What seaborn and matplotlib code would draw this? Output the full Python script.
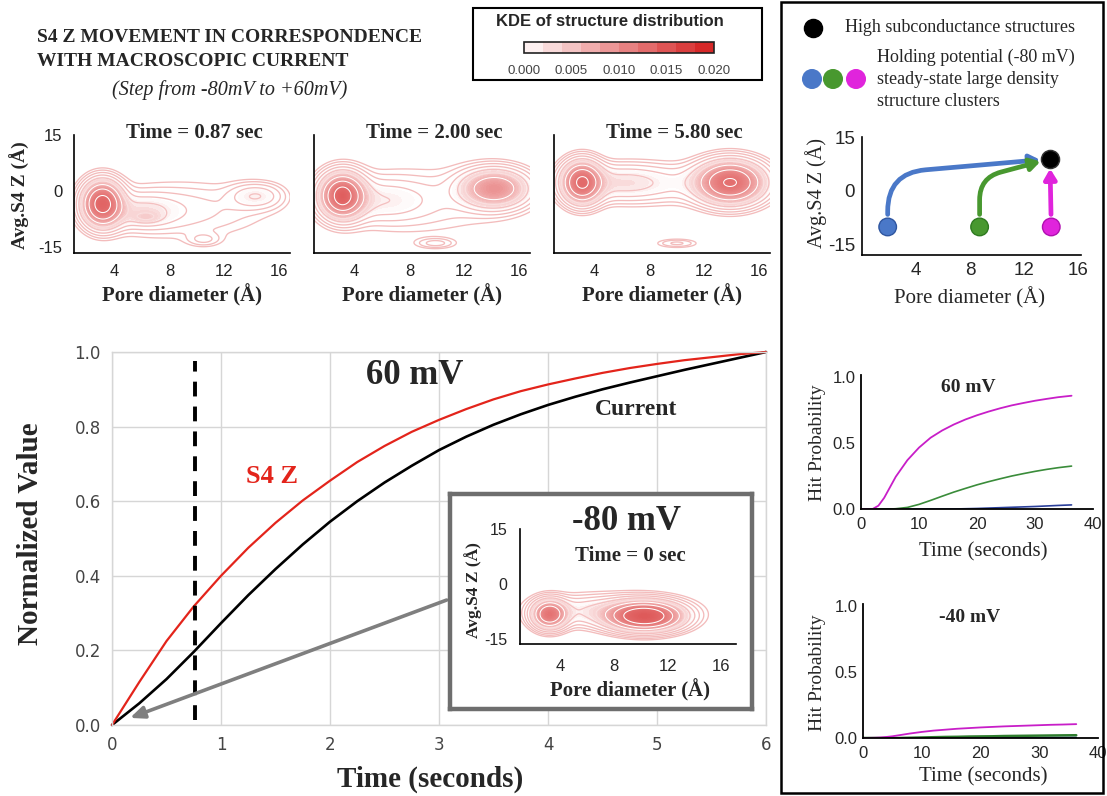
import numpy as np
import matplotlib
matplotlib.use("Agg")
import matplotlib.pyplot as plt
import seaborn as sns
from matplotlib.colors import LinearSegmentedColormap, ListedColormap, BoundaryNorm, Normalize, to_rgb
from matplotlib.patches import Rectangle
import matplotlib.colorbar as mcolorbar

# ------------------------------------------------------------------ data
time_s = [0, 0.25, 0.5, 0.75, 1.0, 1.25, 1.5, 1.75, 2.0, 2.25, 2.5, 2.75, 3.0,
          3.25, 3.5, 3.75, 4.0, 4.25, 4.5, 4.75, 5.0, 5.25, 5.5, 5.75, 6.0]
s4z_norm = [0, 0.115, 0.225, 0.318, 0.400, 0.475, 0.542, 0.602, 0.655, 0.705, 0.748,
            0.786, 0.818, 0.847, 0.873, 0.895, 0.913, 0.929, 0.944, 0.957, 0.968,
            0.978, 0.986, 0.994, 1.0]
current_norm = [0, 0.058, 0.123, 0.196, 0.273, 0.348, 0.418, 0.484, 0.545, 0.60, 0.65,
                0.695, 0.737, 0.773, 0.805, 0.833, 0.858, 0.880, 0.900, 0.918, 0.935,
                0.952, 0.968, 0.984, 1.0]
snapshot_time = 0.76

hit_time = [0, 2, 3, 4, 5, 6, 8, 10, 12, 14, 16, 18, 20, 22, 24, 26, 28, 30, 32, 34, 36.3]
hit60_magenta = [0, 0.0, 0.025, 0.085, 0.165, 0.245, 0.37, 0.465, 0.54, 0.595, 0.64, 0.678,
                 0.71, 0.738, 0.763, 0.785, 0.803, 0.82, 0.834, 0.847, 0.858]
hit60_green = [0, 0, 0, 0, 0, 0.002, 0.012, 0.035, 0.065, 0.097, 0.128, 0.156, 0.183,
               0.207, 0.229, 0.25, 0.268, 0.285, 0.30, 0.313, 0.325]
hit60_blue = [0, 0, 0, 0, 0, 0, 0, 0, 0, 0, 0, 0.002, 0.004, 0.007, 0.010, 0.013, 0.016,
              0.019, 0.023, 0.027, 0.031]
hitm40_magenta = [0, 0.002, 0.004, 0.008, 0.013, 0.02, 0.034, 0.046, 0.056, 0.063, 0.07,
                  0.075, 0.08, 0.084, 0.088, 0.091, 0.094, 0.097, 0.10, 0.102, 0.105]
hitm40_green = [0, 0, 0, 0, 0, 0, 0.002, 0.004, 0.006, 0.008, 0.009, 0.011, 0.012, 0.013,
                0.015, 0.016, 0.017, 0.018, 0.019, 0.020, 0.021]
hitm40_blue = [0, 0, 0, 0, 0, 0, 0, 0, 0.001, 0.001, 0.001, 0.002, 0.002, 0.002, 0.003,
               0.003, 0.003, 0.003, 0.004, 0.004, 0.004]

# cluster summary (pore diameter, S4 Z) for the schematic
cluster_pore = [1.9, 8.7, 14.0]
cluster_s4z = [-10, -10, -10]
cluster_colors = ["#4a78c8", "#48982f", "#e024dc"]
cluster_edges = ["#2f56a0", "#2f7a20", "#b010b0"]
high_pore = [13.9]
high_s4z = [8.9]

# KDE components: centre x, centre y, sd x, sd y, weight
kde087_cx = [3.1, 6.0, 6.3, 9.0, 13.7, 15.0, 10.5]
kde087_cy = [-3.4, -5.5, -7.1, -5.0, -1.3, -1.3, -13.0]
kde087_sx = [0.85, 1.7, 0.7, 4.0, 1.0, 1.0, 0.8]
kde087_sy = [3.5, 2.8, 1.0, 5.0, 2.2, 2.2, 1.2]
kde087_w = [0.22, 0.045, 0.005, 0.11, 0.013, 0.013, 0.004]

kde200_cx = [3.1, 3.1, 6.0, 9.0, 14.2, 9.9]
kde200_cy = [-1.2, -1.4, -2.5, -2.5, 0.7, -14.0]
kde200_sx = [0.95, 0.3, 2.2, 4.5, 1.5, 0.9]
kde200_sy = [3.5, 1.5, 3.5, 6.5, 3.1, 0.9]
kde200_w = [0.23, 0.006, 0.06, 0.11, 0.18, 0.004]

kde580_cx = [3.07, 6.0, 13.9, 9.0, 10.0]
kde580_cy = [2.3, 2.3, 2.3, 2.0, -14.0]
kde580_sx = [0.85, 2.2, 1.45, 4.5, 1.0]
kde580_sy = [3.3, 3.0, 3.4, 3.6, 0.8]
kde580_w = [0.18, 0.06, 0.31, 0.09, 0.004]

kde0_cx = [3.2, 10.3, 6.5, 8.0]
kde0_cy = [-8.3, -8.8, -7.5, -7.0]
kde0_sx = [0.75, 1.6, 2.5, 4.5]
kde0_sy = [2.3, 2.3, 2.5, 3.5]
kde0_w = [0.10, 0.33, 0.05, 0.045]

cbar_ticks = [0.000, 0.005, 0.010, 0.015, 0.020]

# ------------------------------------------------------------------ style
sns.set_theme(style="white")
SERIF = "Liberation Serif"
SANS = "Liberation Sans"
plt.rcParams["font.family"] = ["DejaVu Sans"]
plt.rcParams["axes.unicode_minus"] = False

W, H = 1107, 796
fig = plt.figure(figsize=(W / 100, H / 100), dpi=100, facecolor="white")


def add_ax(l, t, r, b):
    return fig.add_axes([l / W, 1 - b / H, (r - l) / W, (b - t) / H])


# ------------------------------------------------------------------ main chart
ax = add_ax(112, 352, 766, 725)
sns.lineplot(x=time_s, y=current_norm, color="black", lw=1.9, ax=ax, clip_on=False)
sns.lineplot(x=time_s, y=s4z_norm, color="#e3241b", lw=1.6, ax=ax, clip_on=False)
ax.set_xlim(0, 6)
ax.set_ylim(0, 1)
ax.set_xticks(range(7))
ax.set_yticks([0, 0.2, 0.4, 0.6, 0.8, 1.0])
ax.set_yticklabels([f"{v:.1f}" for v in [0, 0.2, 0.4, 0.6, 0.8, 1.0]])
ax.grid(True, color="#d6d6d6", lw=1.0)
for sp in ax.spines.values():
    sp.set_color("#d6d6d6")
    sp.set_linewidth(1.0)
ax.tick_params(length=0, labelsize=12, labelcolor="#444444", pad=8)
ax.set_xlabel("")
ax.set_ylabel("")
ax.axvline(snapshot_time, ymin=0.013, ymax=0.975, color="black", lw=2.8, dashes=(3.8, 2.6))
ax.text(2.78, 0.938, "60 mV", fontsize=25, fontweight="bold", family=SERIF, ha="center", va="center")
ax.text(4.81, 0.845, "Current", fontsize=17, fontweight="bold", family=SERIF, ha="center", va="center")
ax.text(1.47, 0.665, "S4 Z", fontsize=19, fontweight="bold", family=SERIF, color="#e3241b",
        ha="center", va="center")
ax.annotate("", xy=(0.165, 0.019), xytext=(3.07, 0.335),
            arrowprops=dict(arrowstyle="-|>,head_length=0.7,head_width=0.3", color="#7f7f7f",
                            lw=2.6, shrinkA=0, shrinkB=0))

# ------------------------------------------------------------------ KDE helpers
GX = np.linspace(0.3, 17.8, 280)
GY = np.linspace(-18.5, 16.5, 280)
XX, YY = np.meshgrid(GX, GY)

d_nodes = [0.0013, 0.0022, 0.0040, 0.0068, 0.011, 0.019, 0.032]
c_nodes = ["#ffffff", "#f9dcdc", "#f2b4b4", "#ea8e8e", "#e26a6a", "#da4a4a", "#d02a2a"]
fill_norm = Normalize(d_nodes[0], d_nodes[-1])
fill_cmap = LinearSegmentedColormap.from_list(
    "kdefill", [((d - d_nodes[0]) / (d_nodes[-1] - d_nodes[0]), c) for d, c in zip(d_nodes, c_nodes)])
FILL_LEVELS = np.linspace(0.0013, 0.034, 120)
LINE_LEVELS = 0.0003 * 1.55 ** np.arange(11)
pink = np.array(to_rgb("#f3bcbc"))
white = np.array([1.0, 1.0, 1.0])
line_colors = []
line_widths = []
for lev in LINE_LEVELS:
    t = np.clip((lev - 0.0016) / 0.002, 0, 1)
    line_colors.append(tuple(pink * (1 - t) + white * t))
    line_widths.append(0.95 - 0.2 * t)


def density(cx, cy, sx, sy, w):
    Z = np.zeros_like(XX)
    for a, b, s1, s2, ww in zip(cx, cy, sx, sy, w):
        Z += ww / (2 * np.pi * s1 * s2) * np.exp(-0.5 * (((XX - a) / s1) ** 2 + ((YY - b) / s2) ** 2))
    return Z


def draw_kde(axk, cx, cy, sx, sy, w, xlim, ylim):
    Z = density(cx, cy, sx, sy, w)
    axk.contourf(XX, YY, Z, levels=FILL_LEVELS, cmap=fill_cmap, norm=fill_norm, extend="max",
                 antialiased=False)
    axk.contour(XX, YY, Z, levels=LINE_LEVELS, colors=line_colors, linewidths=line_widths)
    axk.set_xlim(*xlim)
    axk.set_ylim(*ylim)
    axk.set_facecolor("white")
    for s in ["top", "right"]:
        axk.spines[s].set_visible(False)
    for s in ["left", "bottom"]:
        axk.spines[s].set_color("black")
        axk.spines[s].set_linewidth(1.2)


panels = [
    (kde087_cx, kde087_cy, kde087_sx, kde087_sy, kde087_w, "Time = 0.87 sec"),
    (kde200_cx, kde200_cy, kde200_sx, kde200_sy, kde200_w, "Time = 2.00 sec"),
    (kde580_cx, kde580_cy, kde580_sx, kde580_sy, kde580_w, "Time = 5.80 sec"),
]

ov = fig.add_axes([0, 0, 1, 1])
ov.set_xlim(0, W)
ov.set_ylim(H, 0)
ov.axis("off")
ov.patch.set_alpha(0)
ov.set_zorder(5)

for i, (cx, cy, sx, sy, w, title) in enumerate(panels):
    left = 73.5 + 240 * i
    axk = add_ax(left, 135, left + 216, 253)
    draw_kde(axk, cx, cy, sx, sy, w, (1, 16.75), (-16.6, 15))
    axk.set_xticks([4, 8, 12, 16])
    if i == 0:
        axk.set_yticks([-15, 0, 15])
    else:
        axk.set_yticks([])
    axk.tick_params(length=0, labelsize=12, pad=8, labelcolor="#222222")
    for lab in axk.get_xticklabels() + axk.get_yticklabels():
        lab.set_family(SANS)
    ov.text(left + 121, 133, title, fontsize=15, fontweight="bold", family=SERIF, ha="center", va="center")
    ov.text(left + 108, 295, "Pore diameter (Å)", fontsize=15, fontweight="bold", family=SERIF,
            ha="center", va="center")
ov.text(20, 195, "Avg.S4 Z (Å)", fontsize=14, fontweight="bold", family=SERIF, rotation=90,
        ha="center", va="center")

# ------------------------------------------------------------------ inset (-80 mV)
box = add_ax(450, 494, 752, 709)
box.set_xticks([])
box.set_yticks([])
box.set_facecolor("white")
for sp in box.spines.values():
    sp.set_color("#6e6e6e")
    sp.set_linewidth(3.2)

axi = add_ax(520, 529, 736, 644)
draw_kde(axi, kde0_cx, kde0_cy, kde0_sx, kde0_sy, kde0_w, (1, 17.1), (-16.4, 15))
axi.set_xticks([4, 8, 12, 16])
axi.set_yticks([-15, 0, 15])
axi.tick_params(axis="y", length=0, labelsize=11.5, pad=9)
axi.tick_params(axis="x", length=0, labelsize=12, pad=11)
for lab in axi.get_xticklabels() + axi.get_yticklabels():
    lab.set_family(SANS)
ov.text(627, 522, "-80 mV", fontsize=25, fontweight="bold", family=SERIF, ha="center", va="center")
ov.text(630, 556, "Time = 0 sec", fontsize=15, fontweight="bold", family=SERIF, ha="center", va="center")
ov.text(630, 690, "Pore diameter (Å)", fontsize=15, fontweight="bold", family=SERIF, ha="center", va="center")
ov.text(473, 590, "Avg.S4 Z (Å)", fontsize=12.5, fontweight="bold", family=SERIF, rotation=90,
        ha="center", va="center")

# ------------------------------------------------------------------ titles & colorbar legend
ov.text(37, 37, "S4 Z MOVEMENT IN CORRESPONDENCE", fontsize=14, fontweight="bold", family=SERIF,
        ha="left", va="center")
ov.text(37, 62, "WITH MACROSCOPIC CURRENT", fontsize=14, fontweight="bold", family=SERIF,
        ha="left", va="center")
ov.text(230, 90, "(Step from -80mV to +60mV)", fontsize=14.5, style="italic", family=SERIF,
        ha="center", va="center")

ov.add_patch(Rectangle((473, 8), 289, 72, fill=False, lw=1.5, ec="black"))
ov.text(610, 22, "KDE of structure distribution", fontsize=12, fontweight="bold", family=SANS,
        ha="center", va="center")
cax = add_ax(524, 42, 714, 53)
bin_cols = LinearSegmentedColormap.from_list("cb", ["#fdf0f0", "#d62828"])(np.linspace(0, 1, 10))
cb = mcolorbar.ColorbarBase(cax, cmap=ListedColormap(bin_cols),
                            norm=BoundaryNorm(np.linspace(0, 0.02, 11), 10),
                            orientation="horizontal", ticks=cbar_ticks)
cb.set_ticklabels([f"{v:.3f}" for v in cbar_ticks])
cb.minorticks_off()
cb.outline.set_linewidth(1.2)
cb.outline.set_edgecolor("#222222")
cax.tick_params(which="both", length=0, labelsize=9.5, pad=9, labelcolor="#444444")
for lab in cax.get_xticklabels():
    lab.set_family(SANS)

# ------------------------------------------------------------------ right panel
ov.add_patch(Rectangle((781, 2), 322, 791, fill=False, lw=1.8, ec="black"))
ov.scatter([813], [28], s=170, c="black", zorder=6)
ov.text(845, 28, "High subconductance structures", fontsize=13, family=SERIF, ha="left", va="center")
ov.scatter([812, 833, 856], [79, 79, 79], s=180, c=cluster_colors, zorder=6)
for k, line in enumerate(["Holding potential (-80 mV)", "steady-state large density", "structure clusters"]):
    ov.text(877, 57 + 22 * k, line, fontsize=13, family=SERIF, ha="left", va="center")

axs = add_ax(862, 137, 1081, 255)
axs.set_xlim(0, 16.2)
axs.set_ylim(-17.8, 15)
for s in ["top", "right"]:
    axs.spines[s].set_visible(False)
for s in ["left", "bottom"]:
    axs.spines[s].set_color("black")
    axs.spines[s].set_linewidth(1.2)
axs.set_xticks([4, 8, 12, 16])
axs.set_yticks([-15, 0, 15])
axs.tick_params(length=0, labelsize=13.5, pad=5)
for lab in axs.get_xticklabels() + axs.get_yticklabels():
    lab.set_family(SANS)
arrow_styles = ["angle,angleA=90,angleB=5,rad=38", "angle,angleA=90,angleB=15,rad=22", "arc3,rad=0"]
for px, py, col, cs in zip(cluster_pore, cluster_s4z, cluster_colors, arrow_styles):
    axs.annotate("", xy=(high_pore[0], high_s4z[0]), xytext=(px, py),
                 arrowprops=dict(arrowstyle="-|>,head_length=0.5,head_width=0.3", color=col, lw=3.4,
                                 shrinkA=9, shrinkB=7, connectionstyle=cs))
sns.scatterplot(x=cluster_pore, y=cluster_s4z, hue=cluster_colors, palette=cluster_colors,
                s=160, edgecolor=cluster_edges, linewidth=1.0, legend=False, ax=axs, zorder=4, clip_on=False)
sns.scatterplot(x=high_pore, y=high_s4z, color="black", s=170, edgecolor="#333333", legend=False,
                ax=axs, zorder=5, clip_on=False)
axs.set_xlabel("")
axs.set_ylabel("")
ov.text(816, 193, "Avg.S4 Z (Å)", fontsize=14.5, family=SERIF, rotation=90, ha="center", va="center")
ov.text(970, 298, "Pore diameter (Å)", fontsize=15, family=SERIF, ha="center", va="center")


def hit_panel(l, t, r, b, series, title, title_xy, ylab_y, xlab_y):
    axh = add_ax(l, t, r, b)
    for ys, col, lw in series:
        sns.lineplot(x=hit_time, y=ys, color=col, lw=lw, ax=axh)
    axh.set_xlim(0, 40)
    axh.set_ylim(0, 1.015)
    axh.set_xticks([0, 10, 20, 30, 40])
    axh.set_yticks([0, 0.5, 1.0])
    axh.set_yticklabels(["0.0", "0.5", "1.0"])
    for s in ["top", "right"]:
        axh.spines[s].set_visible(False)
    for s in ["left", "bottom"]:
        axh.spines[s].set_color("black")
        axh.spines[s].set_linewidth(1.3)
    axh.tick_params(axis="y", length=0, labelsize=12, pad=4)
    axh.tick_params(axis="x", length=0, labelsize=12, pad=6)
    for lab in axh.get_xticklabels() + axh.get_yticklabels():
        lab.set_family(SANS)
    axh.set_xlabel("")
    axh.set_ylabel("")
    ov.text(title_xy[0], title_xy[1], title, fontsize=14, fontweight="bold", family=SERIF,
            ha="center", va="center")
    ov.text(818, ylab_y, "Hit Probability", fontsize=14, family=SERIF, rotation=90, ha="center", va="center")
    ov.text(983, xlab_y, "Time (seconds)", fontsize=15, family=SERIF, ha="center", va="center")


hit_panel(861, 375, 1093, 509,
          [(hit60_blue, "#2a3f9a", 1.2), (hit60_green, "#3a8c3a", 1.2), (hit60_magenta, "#c81ec8", 1.3)],
          "60 mV", (968, 387), 443, 552)
hit_panel(863, 604, 1098, 738,
          [(hitm40_blue, "#2a3f9a", 1.2), (hitm40_green, "#2e7d2e", 1.8), (hitm40_magenta, "#c81ec8", 1.3)],
          "-40 mV", (970, 617), 673, 777)

# main axis labels
ov.text(31, 534, "Normalized Value", fontsize=21, fontweight="bold", family=SERIF, rotation=90,
        ha="center", va="center")
ov.text(430, 779, "Time (seconds)", fontsize=21, fontweight="bold", family=SERIF, ha="center", va="center")

fig.savefig("out.png", dpi=100, facecolor="white")
